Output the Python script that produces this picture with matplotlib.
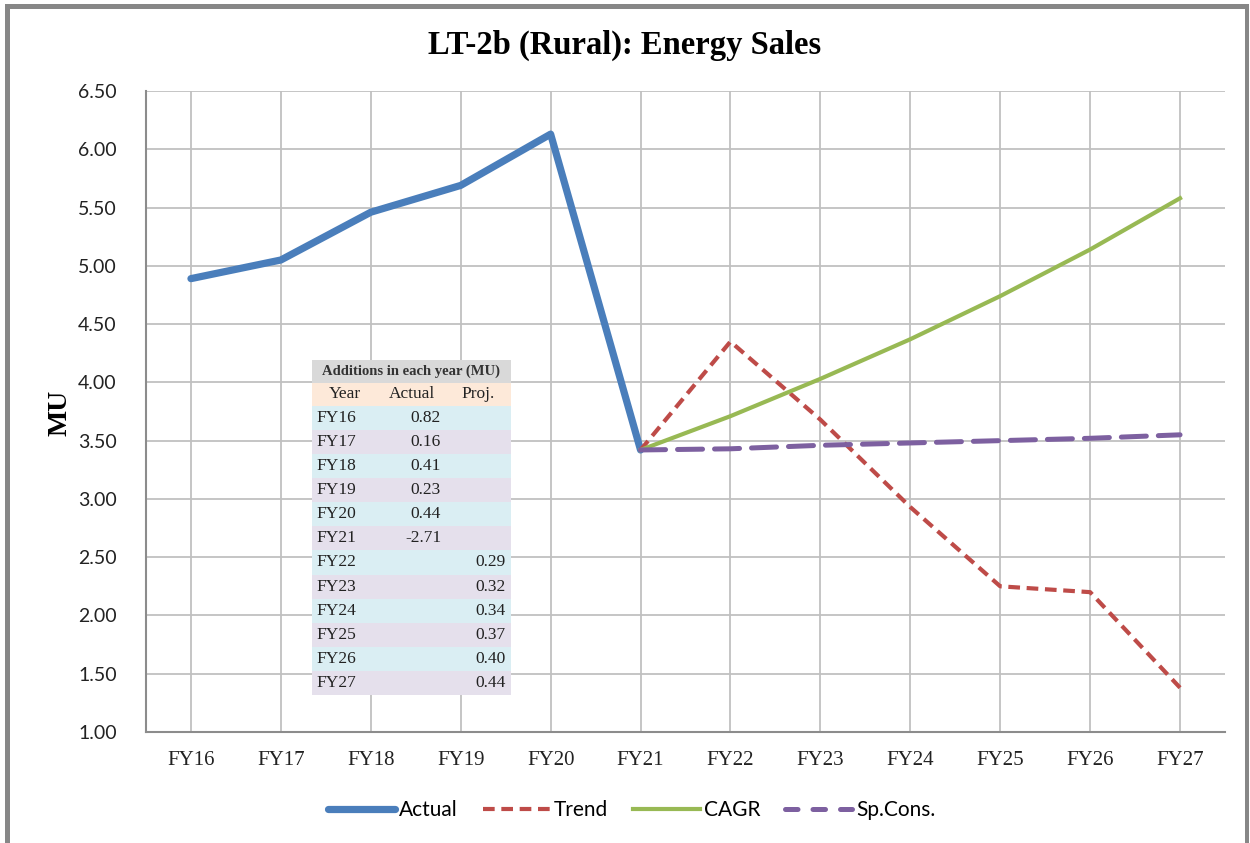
import matplotlib
matplotlib.use("Agg")
import matplotlib.pyplot as plt
from matplotlib.patches import Rectangle
from matplotlib.lines import Line2D

# ---- data ----
years = ["FY16", "FY17", "FY18", "FY19", "FY20", "FY21",
         "FY22", "FY23", "FY24", "FY25", "FY26", "FY27"]
actual = [4.89, 5.05, 5.46, 5.69, 6.13, 3.42]
trend = [3.42, 4.35, 3.68, 2.93, 2.25, 2.20, 1.38]
cagr = [3.42, 3.71, 4.03, 4.37, 4.74, 5.14, 5.58]
spcons = [3.42, 3.43, 3.46, 3.48, 3.50, 3.52, 3.55]
yticks = [1.00, 1.50, 2.00, 2.50, 3.00, 3.50, 4.00, 4.50, 5.00, 5.50, 6.00, 6.50]

table_years = years
table_actual = ["0.82", "0.16", "0.41", "0.23", "0.44", "-2.71", "", "", "", "", "", ""]
table_proj = ["", "", "", "", "", "", "0.29", "0.32", "0.34", "0.37", "0.40", "0.44"]

W, H = 1250, 843
fig = plt.figure(figsize=(W / 100, H / 100), dpi=100)
fig.patch.set_facecolor("white")

def fx(px):
    return px / W

def fy(py):
    return 1 - py / H

# outer frame
frame_col = "#878787"
fig.add_artist(Rectangle((fx(5), 0), fx(5), fy(4), transform=fig.transFigure,
                         color=frame_col, lw=0, zorder=0))
fig.add_artist(Rectangle((fx(5), fy(9)), fx(1249) - fx(5), 5 / H, transform=fig.transFigure,
                         color=frame_col, lw=0, zorder=0))
fig.add_artist(Rectangle((fx(1245), 0), fx(4), fy(4), transform=fig.transFigure,
                         color=frame_col, lw=0, zorder=0))

ax = fig.add_axes([fx(146), fy(732), fx(1225) - fx(146), fy(91) - fy(732)])
x_all = list(range(len(years)))
ax.set_xlim(-0.5, len(years) - 0.5)
ax.set_ylim(1.0, 6.5)
ax.set_yticks(yticks)
ax.set_yticklabels([f"{v:.2f}" for v in yticks], fontfamily="Lato", fontsize=14, color="#222222")
ax.set_xticks(x_all)
ax.set_xticklabels(years, fontfamily="Liberation Serif", fontsize=15, color="#222222")
ax.tick_params(axis="both", length=0)
ax.tick_params(axis="y", pad=21)
ax.tick_params(axis="x", pad=14)
ax.grid(True, color="#c0c0c0", lw=1.3)
ax.set_axisbelow(True)
for s in ["top", "right"]:
    ax.spines[s].set_visible(False)
for s in ["left", "bottom"]:
    ax.spines[s].set_color("#8c8c8c")
    ax.spines[s].set_linewidth(1.5)

blue = "#4a7ebb"
red = "#be4b48"
green = "#98b954"
purple = "#7d60a0"

x_proj = x_all[5:]
ax.plot(x_all[:6], actual, color=blue, lw=5.2, solid_capstyle="round", solid_joinstyle="round", zorder=3)
ax.plot(x_proj, trend, color=red, lw=3, dashes=(2.8, 1.6), zorder=4)
ax.plot(x_proj, cagr, color=green, lw=3, zorder=4)
ax.plot(x_proj, spcons, color=purple, lw=3.6, dashes=(5, 2.4), dash_capstyle="round", zorder=4)

fig.text(fx(625), fy(45), "LT-2b (Rural): Energy Sales", ha="center", va="center",
         fontfamily="Liberation Serif", fontweight="bold", fontsize=23.5)
fig.text(fx(60), fy(413), "MU", ha="center", va="center", rotation=90,
         fontfamily="Liberation Serif", fontweight="bold", fontsize=20)

# legend
handles = [Line2D([], [], color=blue, lw=5.2, solid_capstyle="round"),
           Line2D([], [], color=red, lw=3, dashes=(2.8, 1.6)),
           Line2D([], [], color=green, lw=3),
           Line2D([], [], color=purple, lw=3.6, dashes=(2.5, 3), dash_capstyle="round")]
labels = ["Actual", "Trend", "CAGR", "Sp.Cons."]
fig.legend(handles, labels, loc="center", bbox_to_anchor=(fx(632), fy(810)), ncol=4, frameon=False,
           prop={"family": "Lato", "size": 15}, handlelength=3.2, handletextpad=0.2,
           columnspacing=1.2)

# inset table
tx0, ty0, tw, th = 312, 360, 199, 335
tax = fig.add_axes([fx(tx0), fy(ty0 + th), fx(tw), th / H])
tax.set_xlim(0, tw)
tax.set_ylim(th, 0)
tax.axis("off")
row_h = 24.1
hdr_h = (th - 12 * row_h) / 2
tax.add_patch(Rectangle((0, 0), tw, hdr_h, color="#d9d9d9", lw=0))
tax.text(tw / 2, hdr_h / 2, "Additions in each year (MU)", ha="center", va="center",
         fontfamily="Liberation Serif", fontsize=10.5, fontweight="bold", color="#333333")
tax.add_patch(Rectangle((0, hdr_h), tw, hdr_h, color="#fde9d9", lw=0))
yc = hdr_h * 1.5
tfont = dict(fontfamily="Liberation Serif", fontsize=12.5, color="#222222")
tax.text(33, yc, "Year", ha="center", va="center", **tfont)
tax.text(100, yc, "Actual", ha="center", va="center", **tfont)
tax.text(166, yc, "Proj.", ha="center", va="center", **tfont)
for i, (yr, a, p) in enumerate(zip(table_years, table_actual, table_proj)):
    top = 2 * hdr_h + i * row_h
    col = "#daeef3" if i % 2 == 0 else "#e5e0ec"
    tax.add_patch(Rectangle((0, top), tw, row_h, color=col, lw=0))
    ym = top + row_h / 2
    tax.text(4, ym, yr, ha="left", va="center", **tfont)
    if a:
        tax.text(129, ym, a, ha="right", va="center", **tfont)
    if p:
        tax.text(194, ym, p, ha="right", va="center", **tfont)

fig.savefig("out.png", dpi=100, facecolor="white")
